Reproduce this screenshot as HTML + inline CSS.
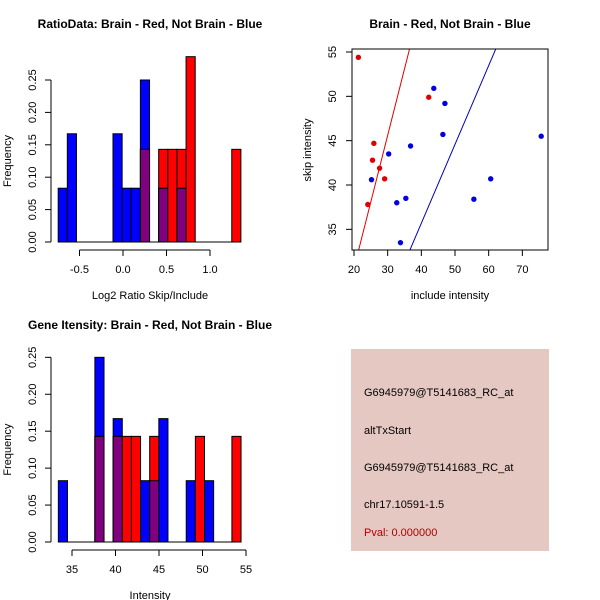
<!DOCTYPE html>
<html><head><meta charset="utf-8"><style>
body{margin:0;background:#fff}
svg{display:block;font-family:"Liberation Sans",sans-serif}
</style></head><body>
<svg id="c" width="600" height="600" viewBox="0 0 600 600">
<rect width="600" height="600" fill="#fff"/>
<g id="g1"></g>
<g id="g2"></g>
<g id="g3"></g>
<g>
<rect x="351" y="349" width="198" height="202" fill="#e6c8c2"/>
<text x="364" y="396" font-size="11" fill="#000">G6945979@T5141683_RC_at</text>
<text x="364" y="434" font-size="11" fill="#000">altTxStart</text>
<text x="364" y="471" font-size="11" fill="#000">G6945979@T5141683_RC_at</text>
<text x="364" y="508" font-size="11" fill="#000">chr17.10591-1.5</text>
<text x="364" y="536" font-size="11" fill="#b00000">Pval: 0.000000</text>
</g>
</svg>
<script>
// Ratio histogram data
const ratioBinStart = -0.745, ratioBinWidth = 0.105;
const ratioBlue = {0:0.083,1:0.167,6:0.167,7:0.083,8:0.083,9:0.25,11:0.083,13:0.083};
const ratioRed = {9:0.143,11:0.143,12:0.143,13:0.143,14:0.286,19:0.143};
const ratioXTicks = [-0.5,0,0.5,1.0];
const ratioXLabels = ["-0.5","0.0","0.5","1.0"];
const freqTicksA = [0,0.05,0.10,0.15,0.20,0.25];
const freqLabelsA = ["0.00","0.05","0.10","0.15","0.20","0.25"];
// Intensity histogram data
const intBinStart = 33.43, intBinWidth = 1.05;
const intBlue = {0:0.083,4:0.25,6:0.167,9:0.083,10:0.083,11:0.167,14:0.083,16:0.083};
const intRed = {4:0.143,6:0.143,7:0.143,8:0.143,10:0.143,15:0.143,19:0.143};
const intXTicks = [35,40,45,50,55];
const intXLabels = ["35","40","45","50","55"];
// Scatter data
const redX = [21.3,42.2,25.9,25.5,27.6,29.1,24.1];
const redY = [54.4,49.9,44.7,42.8,41.9,40.7,37.8];
const blueX = [43.7,47,46.4,36.8,30.3,75.6,25.2,60.6,55.6,35.4,32.7,33.8];
const blueY = [50.9,49.2,45.7,44.4,43.5,45.5,40.6,40.7,38.4,38.5,38,33.5];
const redLine = [0.6,1.5];   // intercept, slope
const blueLine = [0.13,0.889];
const scXTicks = [20,30,40,50,60,70];
const scYTicks = [35,40,45,50,55];

const NS="http://www.w3.org/2000/svg";
function mk(p,tag,a,txt){const e=document.createElementNS(NS,tag);for(const k in a)e.setAttribute(k,a[k]);if(txt!=null)e.textContent=txt;p.appendChild(e);return e;}

function hist(g,o){
  const sx=v=>o.x0+(v-o.xv0)*o.xs, sy=v=>o.y0-v*o.ys;
  mk(g,'text',{x:o.tx,y:o.ty,'font-size':12,'font-weight':'bold','text-anchor':'middle'},o.title);
  const n=20;
  for(let i=0;i<n;i++){
    const b=o.blue[i]||0,r=o.red[i]||0;
    const x1=sx(o.bs+i*o.bw),x2=sx(o.bs+(i+1)*o.bw);
    if(b>0){const e=mk(g,'rect',{x:x1,y:sy(b),width:x2-x1,height:sy(0)-sy(b),fill:'#0000ff',stroke:'#000','stroke-width':1});
      }
    if(r>0){const e=mk(g,'rect',{x:x1,y:sy(r),width:x2-x1,height:sy(0)-sy(r),fill:'#ff0000',stroke:'#000','stroke-width':1});
      }
    if(b>0&&r>0){const m=Math.min(b,r);const e=mk(g,'rect',{x:x1,y:sy(m),width:x2-x1,height:sy(0)-sy(m),fill:'#800080',stroke:'#000','stroke-width':1});
      }
  }
  const ya=o.yt;
  mk(g,'line',{x1:o.ax,x2:o.ax,y1:sy(ya[0]),y2:sy(ya[ya.length-1]),stroke:'#000'});
  ya.forEach((v,i)=>{mk(g,'line',{x1:o.ax-6,x2:o.ax,y1:sy(v),y2:sy(v),stroke:'#000'});
    const t=mk(g,'text',{x:0,y:0,'font-size':11,'text-anchor':'middle',transform:`translate(${o.ax-15},${sy(v)}) rotate(-90)`},o.yl[i]);
    });
  const xa=o.xt;
  mk(g,'line',{x1:sx(xa[0]),x2:sx(xa[xa.length-1]),y1:o.ay,y2:o.ay,stroke:'#000'});
  xa.forEach((v,i)=>{mk(g,'line',{x1:sx(v),x2:sx(v),y1:o.ay,y2:o.ay+6,stroke:'#000'});
    const t=mk(g,'text',{x:sx(v),y:o.ay+23,'font-size':11,'text-anchor':'middle'},o.xl[i]);
    });
  mk(g,'text',{x:o.tx,y:o.ay+49,'font-size':11,'text-anchor':'middle'},o.xtitle);
  mk(g,'text',{x:0,y:0,'font-size':11,'text-anchor':'middle',transform:`translate(11,${(sy(0)+sy(0.25))/2}) rotate(-90)`},'Frequency');
  mk(g,'line',{x1:sx(o.bs),x2:sx(o.bs+20*o.bw),y1:sy(0),y2:sy(0),stroke:'#000'});
}
hist(document.getElementById('g1'),{x0:123,xv0:0,xs:87,y0:242,ys:648,bs:ratioBinStart,bw:ratioBinWidth,blue:ratioBlue,red:ratioRed,
  ax:51,ay:250,yt:freqTicksA,yl:freqLabelsA,xt:ratioXTicks,xl:ratioXLabels,tx:150,ty:28,title:'RatioData: Brain - Red, Not Brain - Blue',xtitle:'Log2 Ratio Skip/Include'});
hist(document.getElementById('g3'),{x0:72,xv0:35,xs:8.7,y0:542,ys:738.7,bs:intBinStart,bw:intBinWidth,blue:intBlue,red:intRed,
  ax:51,ay:550,yt:freqTicksA,yl:freqLabelsA,xt:intXTicks,xl:intXLabels,tx:150,ty:329,title:'Gene Itensity: Brain - Red, Not Brain - Blue',xtitle:'Intensity'});

(function(){
  const g=document.getElementById('g2');
  const L=352,R=548,T=49,B=250;
  const sx=v=>354+(v-20)*3.367, sy=v=>52+(55-v)*8.867;
  mk(g,'text',{x:450,y:28,'font-size':12,'font-weight':'bold','text-anchor':'middle'},'Brain - Red, Not Brain - Blue');
  mk(g,'defs',{}).innerHTML=`<clipPath id="clp"><rect x="${L}" y="${T}" width="${R-L}" height="${B-T}"/></clipPath>`;
  const lines=[[redLine,'#e00000'],[blueLine,'#0000c0']];
  lines.forEach(([ln,c])=>{const xa=10,xb=90;
    const e=mk(g,'line',{x1:sx(xa),y1:sy(ln[0]+ln[1]*xa),x2:sx(xb),y2:sy(ln[0]+ln[1]*xb),stroke:c,'stroke-width':1,'clip-path':'url(#clp)'});
    });
  redX.forEach((x,i)=>{const e=mk(g,'circle',{cx:sx(x),cy:sy(redY[i]),r:2.7,fill:'#e00000'});
    });
  blueX.forEach((x,i)=>{const e=mk(g,'circle',{cx:sx(x),cy:sy(blueY[i]),r:2.7,fill:'#0000e0'});
    });
  mk(g,'rect',{x:L,y:T,width:R-L,height:B-T,fill:'none',stroke:'#000'});
  scXTicks.forEach(v=>{mk(g,'line',{x1:sx(v),x2:sx(v),y1:B,y2:B+6,stroke:'#000'});
    const t=mk(g,'text',{x:sx(v),y:B+23,'font-size':11,'text-anchor':'middle'},String(v));
    });
  scYTicks.forEach(v=>{mk(g,'line',{x1:L-6,x2:L,y1:sy(v),y2:sy(v),stroke:'#000'});
    const t=mk(g,'text',{x:0,y:0,'font-size':11,'text-anchor':'middle',transform:`translate(${L-16},${sy(v)}) rotate(-90)`},String(v));
    });
  mk(g,'text',{x:450,y:299,'font-size':11,'text-anchor':'middle'},'include intensity');
  mk(g,'text',{x:0,y:0,'font-size':11,'text-anchor':'middle',transform:`translate(311,150) rotate(-90)`},'skip intensity');
})();
</script>
</body></html>
